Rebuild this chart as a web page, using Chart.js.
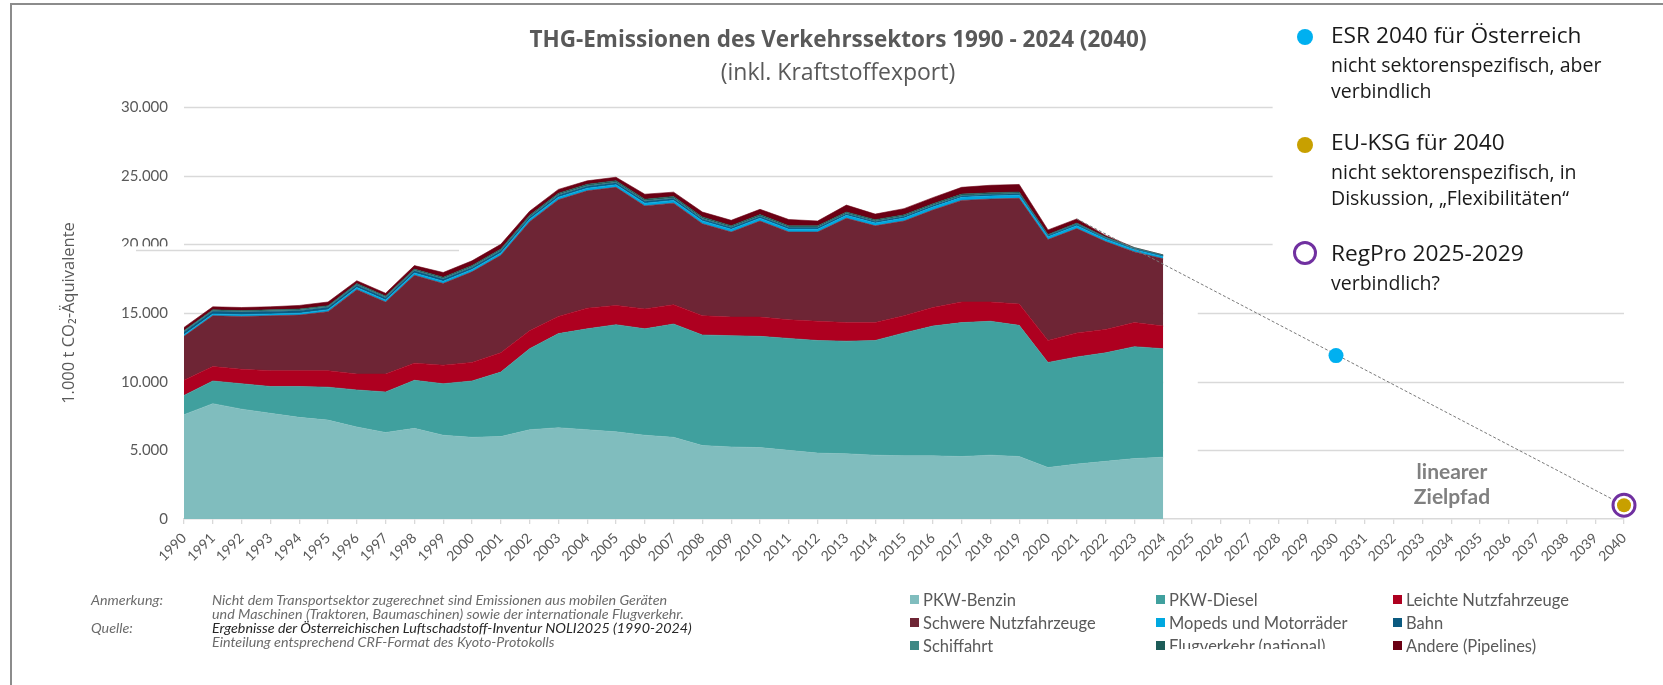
<!DOCTYPE html>
<html lang="de">
<head>
<meta charset="utf-8">
<title>THG-Emissionen des Verkehrssektors</title>
<script src="https://cdn.jsdelivr.net/npm/chart.js@4.4.1/dist/chart.umd.min.js"></script>
<style>
  html, body { margin: 0; padding: 0; background: #fff; }
  #wrap { position: relative; width: 1663px; height: 685px; overflow: hidden; font-family: Lato, sans-serif; }
  #frame { position: absolute; left: 10px; top: 3px; width: 1700px; height: 700px;
           border-left: 2px solid #8c8c8c; border-top: 2px solid #8c8c8c; }
  #box { position: absolute; left: 0; top: 0; width: 1663px; height: 685px; }
  .head { position: absolute; left: 0; width: 1676px; text-align: center; color: #595959;
          font-family: "Open Sans", sans-serif; white-space: nowrap; }
  .note { position: absolute; left: 1331px; color: #1a1a1a; font-family: "Open Sans", sans-serif; white-space: nowrap; }
  .note .main { font-size: 22.7px; line-height: 26px; }
  .note .sub { font-size: 19.5px; line-height: 25.5px; }
  .note .main + .sub { margin-top: 4px; }
  .dot { position: absolute; box-sizing: border-box; border-radius: 50%; }
  .ziel { position: absolute; width: 160px; text-align: center; color: #808080; font-weight: bold;
          font-size: 21px; line-height: 25px; }
  #legend { position: absolute; left: 910px; top: 588px; display: grid;
            grid-template-columns: 246px 237px 220px; grid-auto-rows: 23px; }
  #legend div { display: flex; align-items: center; font-size: 16.5px; color: #595959; white-space: nowrap; }
  #legend span.sw { width: 9px; height: 9px; margin-right: 4px; flex: none; }
  .fn { position: absolute; font-style: italic; font-size: 14.3px; line-height: 14px; color: #6b6b6b; white-space: nowrap; }
</style>
</head>
<body>
<div id="wrap">
  <div id="box"><canvas id="emissionen"></canvas></div>
  <div id="frame"></div>

  <div class="head" style="top:24px;font-size:22.5px;font-weight:700;line-height:30px;">THG-Emissionen des Verkehrssektors 1990 - 2024 (2040)</div>
  <div class="head" style="top:56px;font-size:23px;line-height:30px;">(inkl. Kraftstoffexport)</div>

  <div class="dot" style="left:1297px;top:29px;width:16px;height:16px;background:#00b0f0;"></div>
  <div class="note" style="top:22px;">
    <div class="main">ESR 2040 für Österreich</div>
    <div class="sub">nicht sektorenspezifisch, aber</div>
    <div class="sub">verbindlich</div>
  </div>
  <div class="dot" style="left:1297px;top:137px;width:16px;height:16px;background:#c8a000;"></div>
  <div class="note" style="top:129px;">
    <div class="main">EU-KSG für 2040</div>
    <div class="sub">nicht sektorenspezifisch, in</div>
    <div class="sub">Diskussion, „Flexibilitäten“</div>
  </div>
  <div class="dot" style="left:1293px;top:241px;width:24px;height:24px;border:3px solid #7030a0;"></div>
  <div class="note" style="top:240px;">
    <div class="main">RegPro 2025-2029</div>
    <div class="sub">verbindlich?</div>
  </div>

  <div class="ziel" style="left:1372px;top:458px;">linearer<br>Zielpfad</div>

  <div class="fn" style="left:91px;top:593px;">Anmerkung:</div>
  <div class="fn" style="left:212px;top:593px;">Nicht dem Transportsektor zugerechnet sind Emissionen aus mobilen Geräten</div>
  <div class="fn" style="left:212px;top:607px;">und Maschinen (Traktoren, Baumaschinen) sowie der internationale Flugverkehr.</div>
  <div class="fn" style="left:91px;top:621px;">Quelle:</div>
  <div class="fn" style="left:212px;top:621px;color:#262626;">Ergebnisse der Österreichischen Luftschadstoff-Inventur NOLI2025 (1990-2024)</div>
  <div class="fn" style="left:212px;top:635px;">Einteilung entsprechend CRF-Format des Kyoto-Protokolls</div>

  <div id="legend"></div>
  <div style="position:absolute;left:1166px;top:649px;width:200px;height:12px;background:#fff;"></div>
</div>

<script>
(function(Chart) {
    // Kategorien (Jahre) inkl. Zielpfad bis 2040
    const years = [
        '1990', '1991', '1992', '1993', '1994', '1995', '1996', '1997', '1998', '1999',
        '2000', '2001', '2002', '2003', '2004', '2005', '2006', '2007', '2008', '2009',
        '2010', '2011', '2012', '2013', '2014', '2015', '2016', '2017', '2018', '2019',
        '2020', '2021', '2022', '2023', '2024', '2025', '2026', '2027', '2028', '2029',
        '2030', '2031', '2032', '2033', '2034', '2035', '2036', '2037', '2038', '2039',
        '2040'
    ];

    // Emissionen 1990-2024 in 1.000 t CO2-Äquivalent (aus der Grafik geschätzt)
    const pkwBenzin = [7600, 8400, 8000, 7700, 7400, 7200, 6700, 6300, 6600, 6100, 5950, 6000, 6500, 6650, 6500, 6350, 6100, 5950, 5350, 5250, 5200, 5000, 4800, 4750, 4650, 4600, 4600, 4550, 4650, 4550, 3750, 4000, 4200, 4400, 4500];
    const pkwDiesel = [1400, 1650, 1850, 1950, 2250, 2400, 2700, 2950, 3500, 3750, 4100, 4700, 5900, 6850, 7350, 7800, 7750, 8250, 8050, 8100, 8100, 8150, 8200, 8200, 8350, 8950, 9450, 9750, 9750, 9550, 7650, 7800, 7900, 8150, 7900];
    const leichteNfz = [1100, 1050, 1050, 1150, 1150, 1200, 1150, 1300, 1250, 1350, 1350, 1400, 1300, 1250, 1500, 1400, 1450, 1400, 1400, 1350, 1400, 1350, 1400, 1350, 1300, 1250, 1350, 1500, 1400, 1550, 1600, 1750, 1700, 1750, 1650];
    const schwereNfz = [3200, 3700, 3850, 4000, 4050, 4300, 6150, 5250, 6400, 5950, 6600, 7100, 7950, 8500, 8550, 8600, 7500, 7400, 6700, 6200, 7000, 6400, 6500, 7600, 7050, 6900, 7100, 7400, 7500, 7700, 7350, 7600, 6400, 5150, 4900];
    const mopeds = [120, 125, 125, 130, 135, 140, 150, 150, 160, 165, 170, 175, 180, 185, 190, 195, 200, 200, 205, 200, 205, 200, 205, 210, 205, 210, 215, 220, 220, 225, 200, 210, 170, 160, 150];
    const bahn = [200, 195, 190, 185, 180, 175, 170, 165, 160, 155, 150, 150, 145, 145, 140, 140, 135, 135, 130, 125, 120, 120, 115, 115, 110, 110, 105, 105, 100, 100, 90, 95, 80, 70, 60];
    const schiffahrt = [50, 50, 50, 50, 50, 45, 45, 45, 45, 45, 45, 45, 40, 40, 40, 40, 40, 40, 40, 35, 35, 35, 35, 35, 35, 35, 35, 35, 35, 35, 30, 30, 30, 30, 30];
    const flugverkehr = [60, 60, 60, 65, 70, 75, 80, 80, 85, 90, 95, 95, 95, 100, 105, 110, 110, 115, 115, 100, 105, 100, 95, 95, 95, 95, 100, 100, 100, 100, 55, 60, 60, 50, 40];
    const andere = [220, 220, 225, 220, 265, 265, 205, 200, 250, 345, 340, 335, 300, 280, 250, 250, 365, 310, 360, 390, 385, 450, 350, 500, 405, 450, 445, 490, 545, 550, 325, 305, 110, 0, 0];

    // Zielwerte
    const zielpfad = {'2021': 21850, '2040': 1000};
    const esr2030 = {'2030': 11900};
    const euKsg2040 = {'2040': 1000};
    const regPro2040 = {'2040': 1000};

    const layers = [
        ['PKW-Benzin', pkwBenzin, '#80bdbe'],
        ['PKW-Diesel', pkwDiesel, '#40a09e'],
        ['Leichte Nutzfahrzeuge', leichteNfz, '#ae0020'],
        ['Schwere Nutzfahrzeuge', schwereNfz, '#6e2535'],
        ['Mopeds und Motorräder', mopeds, '#00a8e0'],
        ['Bahn', bahn, '#0b5a80'],
        ['Schiffahrt', schiffahrt, '#3f8985'],
        ['Flugverkehr (national)', flugverkehr, '#1d5c58'],
        ['Andere (Pipelines)', andere, '#6b0014']
    ];

    function byYear(obj) {
        return years.map(y => (y in obj ? obj[y] : null));
    }

    const datasets = layers.map(([label, values, color], i) => ({
        label: label,
        data: values,
        yAxisID: 'y',
        backgroundColor: color,
        borderColor: color,
        borderWidth: 0.6,
        pointRadius: 0,
        fill: i === 0 ? 'origin' : '-1',
        order: 20 + i,
        inLegend: true
    }));

    datasets.push({
        label: 'linearer Zielpfad',
        data: byYear(zielpfad),
        yAxisID: 'yz',
        borderColor: '#7a7a7a',
        borderWidth: 1,
        borderDash: [3, 2],
        pointRadius: 0,
        spanGaps: true,
        fill: false,
        order: 3
    });
    datasets.push({
        label: 'ESR 2040 für Österreich',
        data: byYear(esr2030),
        yAxisID: 'yz',
        showLine: false,
        pointRadius: 7.5,
        pointBorderWidth: 0,
        pointBackgroundColor: '#00b0f0',
        order: 0
    });
    datasets.push({
        label: 'RegPro 2025-2029',
        data: byYear(regPro2040),
        yAxisID: 'yz',
        showLine: false,
        pointRadius: 11,
        pointBorderWidth: 3,
        pointBorderColor: '#7030a0',
        pointBackgroundColor: '#ffffff',
        order: 1
    });
    datasets.push({
        label: 'EU-KSG für 2040',
        data: byYear(euKsg2040),
        yAxisID: 'yz',
        showLine: false,
        pointRadius: 7,
        pointBorderWidth: 0,
        pointBackgroundColor: '#c8a000',
        order: 0
    });

    // Gitterlinien wie im Original: oben vom Textfeld verdeckt, rechts neben 2024 unterbrochen
    const teilGitter = {
        id: 'teilGitter',
        beforeDatasetsDraw(chart) {
            const {ctx, chartArea, scales} = chart;
            const x = scales.x, y = scales.y;
            ctx.save();
            ctx.strokeStyle = '#d9d9d9';
            ctx.lineWidth = 1.3;
            y.ticks.forEach(t => {
                if (t.value === 0) return;
                const py = Math.round(y.getPixelForValue(t.value)) + 0.5;
                const segs = t.value >= 20000
                    ? [[chartArea.left, x.getPixelForValue(37.8)]]
                    : [[chartArea.left, x.getPixelForValue(34)], [x.getPixelForValue(35.2), chartArea.right]];
                segs.forEach(([a, b]) => {
                    ctx.beginPath();
                    ctx.moveTo(a, py);
                    ctx.lineTo(b, py);
                    ctx.stroke();
                });
            });
            ctx.restore();
        },
        afterDraw(chart) {
            // Kante des eingefügten Bildes unter "20.000"
            const {ctx, chartArea, scales} = chart;
            const py = scales.y.getPixelForValue(20000);
            ctx.save();
            ctx.fillStyle = '#ffffff';
            ctx.fillRect(chartArea.left - 70, py + 2, 70, 4);
            ctx.strokeStyle = '#d9d9d9';
            ctx.lineWidth = 1.3;
            ctx.beginPath();
            ctx.moveTo(chartArea.left - 48, Math.round(py + 6) + 0.5);
            ctx.lineTo(scales.x.getPixelForValue(9.55), Math.round(py + 6) + 0.5);
            ctx.stroke();
            ctx.restore();
        }
    };

    Chart.defaults.font.family = 'Lato';
    Chart.defaults.color = '#595959';

    const config = {
        type: 'line',
        data: {labels: years, datasets: datasets},
        plugins: [teilGitter],
        options: {
            responsive: true,
            maintainAspectRatio: false,
            animation: false,
            locale: 'de-DE',
            elements: {line: {tension: 0}},
            layout: {padding: {left: 55, right: 39, top: 107, bottom: 0}},
            plugins: {
                legend: {display: false},
                tooltip: {enabled: false}
            },
            scales: {
                x: {
                    offset: false,
                    grid: {display: true, drawOnChartArea: false, drawTicks: true, tickLength: 5, color: '#d9d9d9', lineWidth: 1.3},
                    border: {display: true, color: '#d9d9d9', width: 1.5},
                    ticks: {autoSkip: false, minRotation: 45, maxRotation: 45, padding: 6, font: {size: 14}, color: '#595959'},
                    afterFit: scale => { scale.height = 166; }
                },
                y: {
                    stacked: true,
                    min: 0,
                    max: 30000,
                    grid: {display: false, drawTicks: false},
                    border: {display: false},
                    ticks: {stepSize: 5000, padding: 16, font: {size: 15}, color: '#595959'},
                    title: {
                        display: true,
                        text: '1.000 t CO₂-Äquivalente',
                        font: {family: 'Open Sans', size: 16.5},
                        color: '#595959',
                        padding: {top: 4, bottom: 0}
                    },
                    afterFit: scale => { scale.width = 129; }
                },
                yz: {
                    display: false,
                    stacked: false,
                    min: 0,
                    max: 30000
                }
            }
        }
    };

    const canvas = document.getElementById('emissionen');
    const chart = new Chart(canvas.getContext('2d'), config);

    const legend = document.getElementById('legend');
    chart.data.datasets.filter(ds => ds.inLegend).forEach(ds => {
        const item = document.createElement('div');
        const sw = document.createElement('span');
        sw.className = 'sw';
        sw.style.background = ds.backgroundColor;
        item.appendChild(sw);
        item.appendChild(document.createTextNode(ds.label));
        legend.appendChild(item);
    });
})(Chart);
</script>
</body>
</html>
